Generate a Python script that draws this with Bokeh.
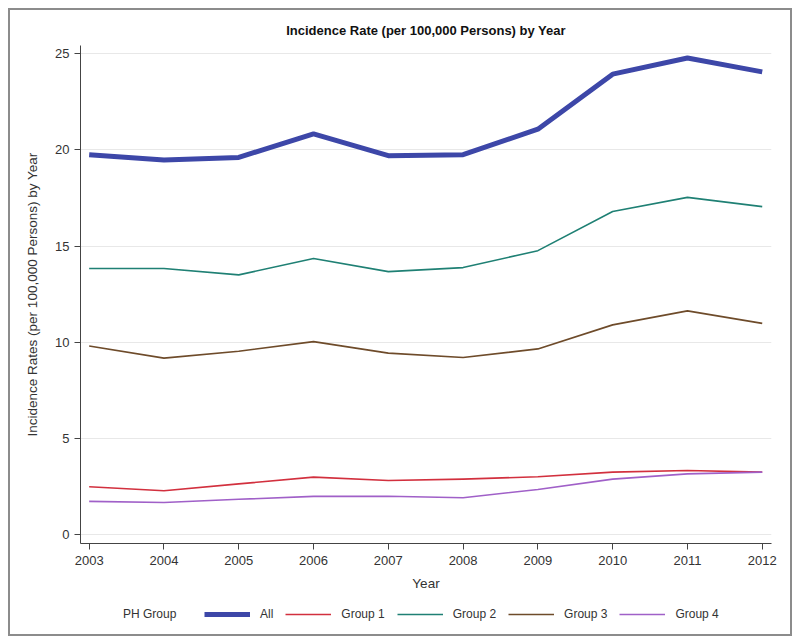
from bokeh.plotting import figure
from bokeh.models import Range1d, FixedTicker, Legend, LegendItem
from bokeh.layouts import column
from bokeh.embed import file_html
from bokeh.resources import INLINE

years = [2003, 2004, 2005, 2006, 2007, 2008, 2009, 2010, 2011, 2012]
all_rates = [19.75, 19.47, 19.61, 20.83, 19.70, 19.75, 21.08, 23.94, 24.78, 24.06]
group1 = [2.48, 2.27, 2.63, 2.98, 2.81, 2.88, 3.00, 3.24, 3.33, 3.24]
group2 = [13.83, 13.83, 13.50, 14.35, 13.67, 13.88, 14.76, 16.80, 17.53, 17.05]
group3 = [9.80, 9.17, 9.53, 10.03, 9.43, 9.20, 9.65, 10.90, 11.63, 10.98]
group4 = [1.72, 1.66, 1.83, 1.98, 1.99, 1.91, 2.34, 2.88, 3.15, 3.24]
y_ticks = [0, 5, 10, 15, 20, 25]
legend_title = "PH Group"
series_names = ["All", "Group 1", "Group 2", "Group 3", "Group 4"]
series_values = [all_rates, group1, group2, group3, group4]

colors = ["#3d47a8", "#d2303e", "#1f8074", "#6e4b2a", "#a060c8"]
widths = [5, 1.6, 1.6, 1.6, 1.6]

FONT = "Liberation Sans"
TXT = "#333333"

p = figure(frame_width=691, frame_height=498, output_backend="svg", toolbar_location=None,
           x_range=Range1d(2002.884, 2012.124), y_range=Range1d(-0.47, 25.43),
           title="Incidence Rate (per 100,000 Persons) by Year",
           x_axis_label="Year",
           y_axis_label="Incidence Rates (per 100,000 Persons) by Year",
           min_border_left=70, min_border_right=19, min_border_top=35, min_border_bottom=56)
p.outline_line_color = None
p.background_fill_color = "white"
p.border_fill_color = "white"

p.title.align = "center"
p.title.text_font = FONT
p.title.text_font_size = "13px"
p.title.text_font_style = "bold"
p.title.text_color = "#111111"
p.title.standoff = 15

p.xaxis.ticker = FixedTicker(ticks=years)
p.yaxis.ticker = FixedTicker(ticks=y_ticks)
for ax in (p.xaxis, p.yaxis):
    ax.axis_line_color = "#444444"
    ax.major_tick_line_color = "#444444"
    ax.major_tick_out = 6
    ax.major_tick_in = 0
    ax.minor_tick_line_color = None
    ax.major_label_text_font = FONT
    ax.major_label_text_font_size = "13px"
    ax.major_label_text_color = TXT
    ax.axis_label_text_font = FONT
    ax.axis_label_text_font_size = "13.5px"
    ax.axis_label_text_font_style = "normal"
    ax.axis_label_text_color = TXT
p.xaxis.major_label_standoff = 6
p.yaxis.major_label_standoff = 5
p.xaxis.axis_label_standoff = 8
p.yaxis.axis_label_standoff = 12

p.xgrid.grid_line_color = None
p.ygrid.grid_line_color = "#e8e8e8"
p.ygrid.grid_line_width = 1

for vals, c, w in zip(series_values, colors, widths):
    p.line(years, vals, line_color=c, line_width=w, line_join="round")

# legend strip below the chart (its own small figure; the series lie outside its ranges)
lf = figure(width=780, height=35, output_backend="svg", toolbar_location=None,
            x_range=Range1d(0, 1), y_range=Range1d(0, 1), min_border=0,
            x_axis_location=None, y_axis_location=None)
lf.grid.visible = False
lf.outline_line_color = None
lf.border_fill_color = "white"
lf.background_fill_color = "white"

legend_style = dict(orientation="horizontal", glyph_height=20, label_width=10,
                    padding=4, margin=0, label_text_font=FONT,
                    label_text_font_size="12px", label_text_color=TXT,
                    background_fill_alpha=0, border_line_color=None)

title_r = lf.line(years, all_rates, line_alpha=0)
title_legend = Legend(items=[LegendItem(label=legend_title, renderers=[title_r])],
                      location=(43, 10), glyph_width=0, label_standoff=0, **legend_style)
lf.add_layout(title_legend, "center")

items = []
for name, vals, c, w in zip(series_names, series_values, colors, widths):
    r = lf.line(years, vals, line_color=c, line_width=w, line_join="round")
    items.append(LegendItem(label=name, renderers=[r]))
series_legend = Legend(items=items, location=(124, 10), glyph_width=46,
                       label_standoff=10, spacing=12, **legend_style)
lf.add_layout(series_legend, "center")

layout = column(p, lf, spacing=0,
                styles={"margin": "8px", "border": "2px solid #8c8c8c"})

open("out.html", "w").write(file_html(layout, INLINE))
